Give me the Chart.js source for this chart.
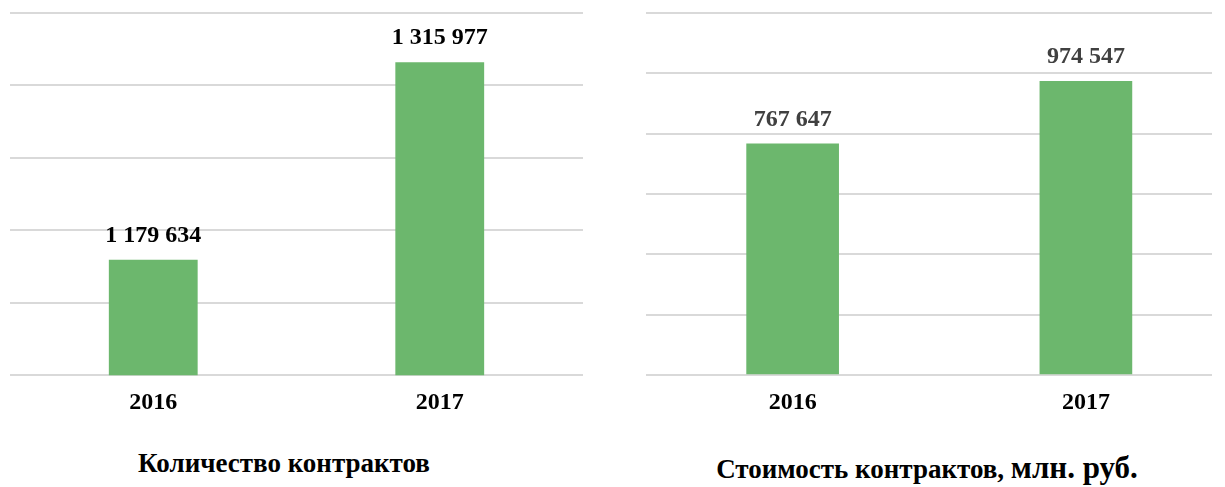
<!DOCTYPE html>
<html>
<head>
<meta charset="utf-8">
<script src="https://cdn.jsdelivr.net/npm/chart.js@4"></script>
<style>
  body { margin: 0; background: #fff; width: 1225px; height: 487px; position: relative; overflow: hidden; }
  canvas { position: absolute; top: 0; }
  .title { position: absolute; font-family: "Liberation Serif", "Times New Roman", serif; font-weight: bold; color: #000; white-space: nowrap; transform: translateX(-50%); line-height: 1; }
</style>
</head>
<body>
<canvas id="countChart" width="600" height="440" style="left:0"></canvas>
<canvas id="costChart" width="605" height="440" style="left:620px"></canvas>
<div class="title" style="left:284px;top:450px;font-size:27px">Количество контрактов</div>
<div class="title" style="left:927px;top:452px;font-size:27px">Стоимость контрактов, <span style="font-size:31px">млн. руб.</span></div>
<script>
var years = [2016, 2017];
var contractCount = [1179634, 1315977];
var contractCost = [767647, 974547];
// y axis: min, max, step
var countTicks = [1100000, 1350000, 50000];
var costTicks = [0, 1200000, 200000];
// x axis range in years
var countRange = [2015.5, 2017.5];
var costRange = [2015.5, 2017.43];

function fmt(v) {
    return String(v).replace(/\B(?=(\d{3})+(?!\d))/g, " ");
}

var barLabels = {
    id: "barLabels",
    afterDatasetsDraw(chart, args, opts) {
        var ctx = chart.ctx;
        ctx.save();
        ctx.font = "bold 24px 'Liberation Serif', serif";
        ctx.fillStyle = opts.color;
        ctx.textAlign = "center";
        ctx.textBaseline = "middle";
        chart.getDatasetMeta(0).data.forEach((bar, i) => {
            ctx.fillText(fmt(chart.data.datasets[0].data[i].y), bar.x, bar.y - opts.offset);
        });
        ctx.restore();
    }
};

function makeChart(id, values, ticks, range, pad, barPct, labelColor) {
    return new Chart(document.getElementById(id), {
        type: "bar",
        data: {
            datasets: [{
                data: years.map((yr, i) => ({ x: yr, y: values[i] })),
                backgroundColor: "#6cb76d",
                barPercentage: barPct,
                categoryPercentage: 1
            }]
        },
        options: {
            responsive: false,
            animation: false,
            layout: { padding: pad },
            plugins: {
                legend: { display: false },
                tooltip: { enabled: false },
                barLabels: { color: labelColor, offset: 24 }
            },
            scales: {
                x: {
                    type: "linear",
                    offset: false,
                    min: range[0],
                    max: range[1],
                    afterBuildTicks: (axis) => { axis.ticks = years.map((v) => ({ value: v })); },
                    grid: { display: false, drawTicks: false },
                    border: { display: false },
                    ticks: {
                        padding: 13,
                        autoSkip: false,
                        maxRotation: 0,
                        color: "#000",
                        callback: (v) => String(v),
                        font: { family: "'Liberation Serif', serif", size: 24, weight: "bold" }
                    }
                },
                y: {
                    min: ticks[0],
                    max: ticks[1],
                    grid: { color: "#d9d9d9", lineWidth: 2, drawTicks: false },
                    border: { display: false },
                    ticks: { display: false, stepSize: ticks[2] }
                }
            }
        },
        plugins: [barLabels]
    });
}

makeChart("countChart", contractCount, countTicks, countRange, { left: 10, right: 17, top: 13, bottom: 10 }, 0.31, "#000");
makeChart("costChart", contractCost, costTicks, costRange, { left: 26, right: 13, top: 13, bottom: 10 }, 0.316, "#404040");
</script>
</body>
</html>
